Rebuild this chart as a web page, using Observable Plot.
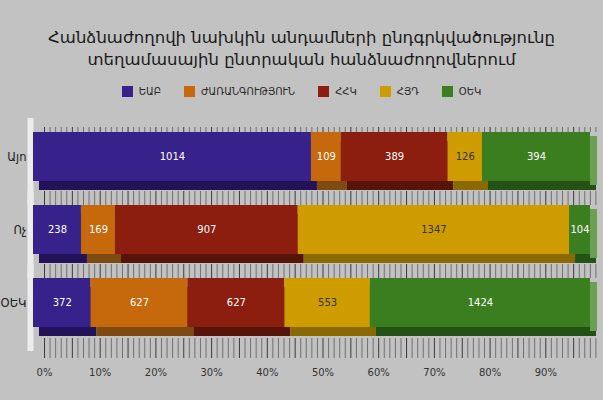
<!DOCTYPE html>
<html>
<head>
<meta charset="utf-8">
<script src="https://cdn.jsdelivr.net/npm/d3@7"></script>
<script src="https://cdn.jsdelivr.net/npm/@observablehq/plot@0.6"></script>
<style>
  html, body { margin: 0; padding: 0; background: #c2c2c2; }
  body { width: 603px; height: 400px; overflow: hidden; font-family: "DejaVu Sans", "Noto Sans", sans-serif; }
  #head { height: 105px; box-sizing: border-box; padding-top: 27px; }
  #title { text-align: center; font-size: 16.5px; line-height: 22px; color: #1a1a1a; }
  #legend { display: flex; justify-content: center; gap: 23px; margin-top: 15px; font-size: 10px; color: #2a2a2a; align-items: center; }
  #legend .item { display: flex; align-items: center; gap: 6px; }
  #legend .sw { width: 11px; height: 11px; display: inline-block; }
  svg { display: block; }
</style>
</head>
<body>
<div id="head">
  <div id="title">Հանձնաժողովի նախկին անդամների ընդգրկվածությունը<br>տեղամասային ընտրական հանձնաժողովներում</div>
  <div id="legend"></div>
</div>
<div id="chart"></div>
<script>
const rows = ["Այո", "Ոչ", "ՕԵԿ"];
const series = ["ԵԱԲ", "ԺԱՌԱՆԳՈՒԹՅՈՒՆ", "ՀՀԿ", "ՀՅԴ", "ՕԵԿ"];
const colors = ["#37218a", "#c5690c", "#8c1e0f", "#cf9c00", "#3b7e20"];
const shadeColors = ["#221358", "#7e4a12", "#571409", "#8a6900", "#245116"];
const textColors = ["#ffffff", "#ffffff", "#ffffff", "#333333", "#ffffff"];
const values_Ayo = [1014, 109, 389, 126, 394];
const values_Voch = [238, 169, 907, 1347, 104];
const values_OEK = [372, 627, 627, 553, 1424];
const tickLabels = ["0%", "10%", "20%", "30%", "40%", "50%", "60%", "70%", "80%", "90%"];
const tickValues = [0, 0.1, 0.2, 0.3, 0.4, 0.5, 0.6, 0.7, 0.8, 0.9];

const rowValues = [values_Ayo, values_Voch, values_OEK];
const data = [];
rows.forEach((r, i) => series.forEach((s, j) => data.push({row: r, series: s, value: rowValues[i][j]})));

// legend
const leg = document.getElementById("legend");
series.forEach((s, j) => {
  const it = document.createElement("div");
  it.className = "item";
  it.innerHTML = `<span class="sw" style="background:${colors[j]}"></span><span>${s}</span>`;
  leg.appendChild(it);
});

const fine = d3.range(0, 100).map(i => i / 100);
const stackOpts = {x: "value", y: "row", offset: "normalize"};
const tickStroke = (d) => (Math.round(d.x * 100) % 5 === 0 ? "#3a3a3a" : "#707070");
const stripFor = (r, dy, insetTop) =>
  Plot.tickX(fine.map(v => ({x: v, row: r})), {x: "x", y: "row", dx: 11, dy, insetTop, stroke: tickStroke, strokeWidth: 1});

const chart = Plot.plot({
  width: 603,
  height: 295,
  marginLeft: 33,
  marginRight: 13,
  marginTop: 0,
  marginBottom: 0,
  style: {background: "transparent", fontFamily: "DejaVu Sans, sans-serif"},
  x: {domain: [0, 1], range: [33, 590], axis: null},
  y: {domain: rows, range: [27, 222], paddingInner: 0.329, paddingOuter: 0, axis: null},
  color: {domain: series, range: colors},
  marks: [
    // left wall
    Plot.tickX(rows, {x: 0, y: (d) => d, stroke: "#ececec", strokeWidth: 6, dx: -3, insetTop: -14, insetBottom: -24}),
    // floor tick strips
    stripFor(rows[0], -49, 44),
    stripFor(rows[0], 24, 35),
    stripFor(rows[1], 24, 35),
    stripFor(rows[2], 31, 29),
    // 3D shadow
    Plot.barX(data, Plot.stackX({...stackOpts, fill: (d) => shadeColors[series.indexOf(d.series)], dx: 6, dy: 9})),
    // right side face
    Plot.barX(data.filter(d => d.series === series[series.length - 1]), {x1: 1, x2: 1.0125, y: "row", fill: "#6aa052", dy: 4}),
    // front face
    Plot.barX(data, Plot.stackX({...stackOpts, fill: "series"})),
    // value labels
    Plot.text(data, Plot.stackX({...stackOpts, z: "series", text: (d) => String(d.value), fill: (d) => textColors[series.indexOf(d.series)], fontSize: 10})),
    // row labels
    Plot.text(rows, {x: 0, y: (d) => d, text: (d) => d, textAnchor: "end", dx: -7, fontSize: 11.5, fill: "#222"}),
    // x tick labels
    Plot.text(tickValues, {x: (d) => d, y: () => rows[2], text: (d, i) => tickLabels[i], dx: 11, dy: 70, fontSize: 10, fill: "#333"})
  ]
});
document.getElementById("chart").appendChild(chart);
</script>
</body>
</html>
